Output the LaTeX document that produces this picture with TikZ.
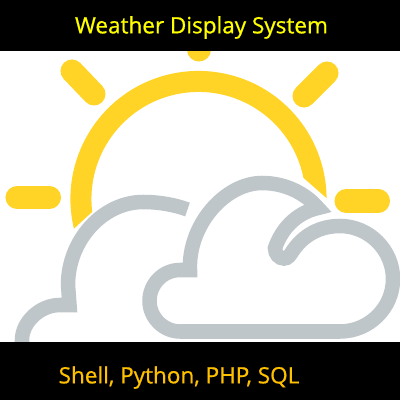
\documentclass[tikz,border=0pt]{standalone}
\usepackage{fontspec}
\usepackage{xcolor}
\usetikzlibrary{calc}
\setmainfont{Open Sans}
\newfontfamily\titlefont[FakeBold=0.8]{Open Sans}
\definecolor{sunyellow}{RGB}{255,212,38}
\definecolor{cloudgrey}{RGB}{191,198,201}
\definecolor{titleyellow}{RGB}{255,255,0}
\definecolor{langamber}{RGB}{255,192,0}

\begin{document}
\begin{tikzpicture}[
    x=0.01cm, y=0.01cm,
    ray/.style={draw=sunyellow, line width=2.3mm, line cap=round},
    cloudline/.style={draw=cloudgrey, line width=1.45mm, miter limit=10},
    bar/.style={fill=black},
    title/.style={font=\fontsize{6.4}{8}\titlefont},
]
    \useasboundingbox (0,0) rectangle (400,400);
    \fill[white] (0,0) rectangle (400,400);

    % rays
    \draw[ray] (199,352) -- (199,350);
    \draw[ray] (72,329) -- (94,306);
    \draw[ray] (327,327) -- (304,304);
    \draw[ray] (17,202.5) -- (49.5,202.5);
    \draw[ray] (346,199) -- (378.5,199);

    % sun
    \coordinate (sun) at (198.5,201);
    \fill[sunyellow] ($(sun)+(193.4:1.28cm)$) arc[start angle=193.4, end angle=0.4, radius=1.28cm]
        -- ($(sun)+(11.4:1.07cm)$) arc[start angle=11.4, end angle=186.9, radius=1.07cm] -- cycle;

    % back cloud
    \draw[cloudline] (22,50) -- (22,60) .. controls (22,78) and (40,95) .. (60,95) -- (69.5,95)
        -- (68,115) .. controls (68,160) and (103,198) .. (143,198)
        .. controls (160,198) and (175,195) .. (187.5,190.5);

    % front cloud
    \draw[cloudline] (190,130) .. controls (188,175) and (225,217) .. (262,217)
        .. controls (285,217) and (305,207) .. (318,192)
        .. controls (300,188) and (283,175) .. (275,152)
        .. controls (275,146) and (279,141.5) .. (284,141.5)
        .. controls (288,141.5) and (290,145) .. (292,148)
        .. controls (303,165) and (320,174) .. (340,174)
        .. controls (369,174) and (393,150) .. (393,121)
        .. controls (393,92) and (369,68.5) .. (340,68.5)
        -- (180,68.5) .. controls (163,68.5) and (149.5,83) .. (149.5,99)
        .. controls (149.5,116) and (163,130) .. (180,130) -- cycle;

    % bars and text
    \fill[bar] (0,349) rectangle (400,400);
    \fill[bar] (0,0) rectangle (400,58);
    \node[title, text=titleyellow] (heading) at (201.5,372.5) {Weather Display System};
    \node[title, text=langamber] (langs) at (179,22.5) {Shell, Python, PHP, SQL};
\end{tikzpicture}
\end{document}
